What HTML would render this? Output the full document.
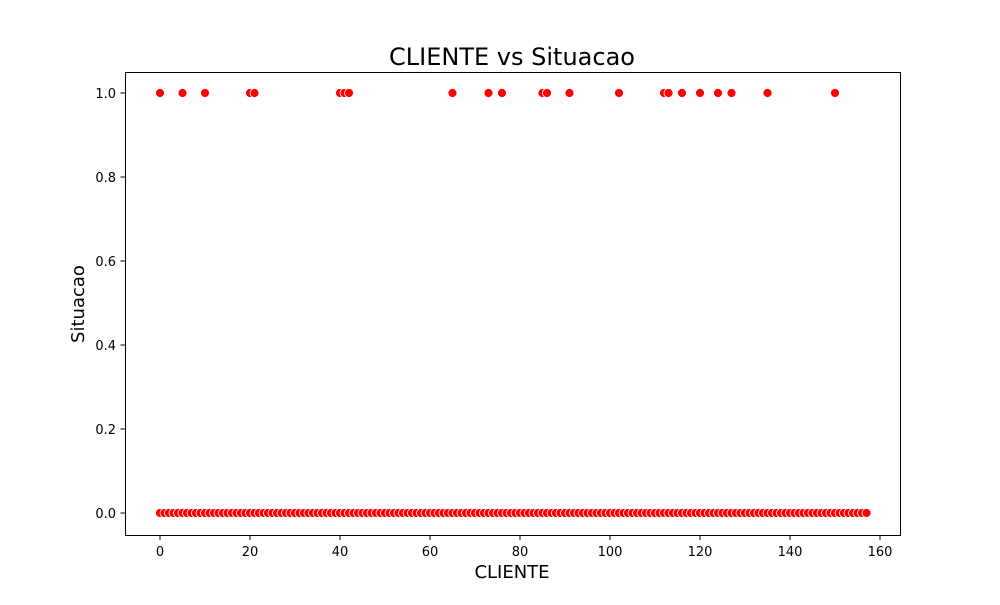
<!DOCTYPE html>
<html><head><meta charset="utf-8"><style>
body{margin:0;background:#fff;font-family:"Liberation Sans","DejaVu Sans",sans-serif}
</style></head><body>
<svg id="chart" width="1000" height="600" xmlns="http://www.w3.org/2000/svg">
<rect width="1000" height="600" fill="#fff"/>
<text x="512" y="65" font-size="24" text-anchor="middle" font-family="DejaVu Sans, sans-serif">CLIENTE vs Situacao</text>
<text x="512" y="578" font-size="18" text-anchor="middle" font-family="DejaVu Sans, sans-serif">CLIENTE</text>
<text x="84" y="304" font-size="18" text-anchor="middle" transform="rotate(-90 84 304)" font-family="DejaVu Sans, sans-serif">Situacao</text>
<g id="ticks"></g>
<g id="points"></g>
<rect x="125.5" y="72.5" width="775" height="463" fill="none" stroke="#000" stroke-width="1"/>
</svg>
<script>
const positiveClients = [0,5,10,20,21,40,41,42,65,73,76,85,86,91,102,112,113,116,120,124,127,135,150];
const maxClient = 157;
const xTicks = [0,20,40,60,80,100,120,140,160];
const yTicks = [0.0,0.2,0.4,0.6,0.8,1.0];
const xs = v => 160 + v*4.5;
const ys = v => 513 - v*420;
const NS="http://www.w3.org/2000/svg";
const tg=document.getElementById('ticks');
function mk(t,a,p){const e=document.createElementNS(NS,t);for(const k in a)e.setAttribute(k,a[k]);p.appendChild(e);return e;}
xTicks.forEach(v=>{
  const l=mk('line',{x1:xs(v),x2:xs(v),y1:535.5,y2:540,stroke:'#000'},tg);
  
  
  const t=mk('text',{x:xs(v),y:556,'font-size':13,'text-anchor':'middle','font-family':'DejaVu Sans, sans-serif'},tg);
  t.textContent=v;
  
  
});
yTicks.forEach(v=>{
  const l=mk('line',{x1:120.5,x2:125.5,y1:ys(v),y2:ys(v),stroke:'#000'},tg);
  
  
  const t=mk('text',{x:116,y:ys(v)+5,'font-size':13,'text-anchor':'end','font-family':'DejaVu Sans, sans-serif'},tg);
  t.textContent=v.toFixed(1);
  
  
});
const pg=document.getElementById('points');
for(let i=0;i<=maxClient;i++){
  const c=mk('circle',{cx:xs(i),cy:ys(0),r:4.5,fill:'#ff0000',stroke:'#fff','stroke-width':0.8},pg);
  
  
}
positiveClients.forEach(i=>{
  const c=mk('circle',{cx:xs(i),cy:ys(1),r:4.5,fill:'#ff0000',stroke:'#fff','stroke-width':0.8},pg);
  
  
});
</script>
</body></html>
